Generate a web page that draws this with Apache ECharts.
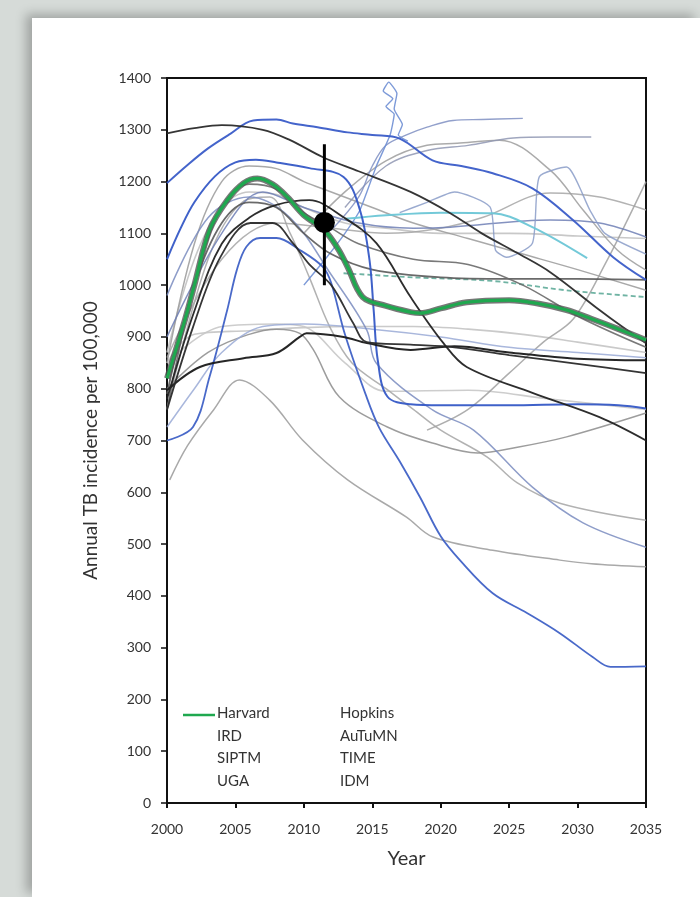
<!DOCTYPE html>
<html>
<head>
<meta charset="utf-8">
<script src="https://cdn.jsdelivr.net/npm/echarts@6/dist/echarts.min.js"></script>
<style>
html,body{margin:0;padding:0;width:700px;height:897px;background:#d6dbd8;overflow:hidden;}
#card{position:absolute;left:32px;top:18px;width:668px;height:879px;background:#fff;box-shadow:-6px -4px 10px rgba(0,0,0,0.25);}
#chart{position:absolute;left:0;top:0;width:700px;height:897px;}
</style>
</head>
<body>
<div id="card"></div>
<div id="chart"></div>
<script>
// ---- data (year, annual TB incidence per 100,000) ----
const xTicks = [2000, 2005, 2010, 2015, 2020, 2025, 2030, 2035];
const yTicks = [0, 100, 200, 300, 400, 500, 600, 700, 800, 900, 1000, 1100, 1200, 1300, 1400];
const legendLeft = ['Harvard', 'IRD', 'SIPTM', 'UGA'];
const legendRight = ['Hopkins', 'AuTuMN', 'TIME', 'IDM'];

const harvard = [[2000,820],[2001.3,932],[2002,1000],[2003.1,1106],[2004.4,1164],[2005.6,1197],[2006.6,1206],[2007.7,1195],[2008.8,1170],[2010,1135],[2011.5,1106],[2012.5,1070],[2013.2,1035],[2014.3,977],[2016,960],[2017.8,948],[2018.5,946],[2020,955],[2021.9,967],[2025,971],[2027,965],[2029.2,952],[2031,935],[2033,915],[2035,894]];
const observed = [[2011.5,1121]];
const observedRange = [[2011.5,1000],[2011.5,1272]];

const blackTop = [[2000,1293],[2002,1303],[2004,1309],[2007,1300],[2009,1280],[2011.4,1247],[2014,1220],[2017.8,1180],[2020.7,1139],[2023,1100],[2025.6,1062],[2028,1025],[2031.6,952],[2033.3,919],[2035,888]];
const blueTop = [[2000,1197],[2001.5,1232],[2003,1264],[2004.5,1290],[2006.3,1318],[2008,1320],[2009.2,1312],[2011,1305],[2013.2,1295],[2015,1290],[2017,1283],[2019.4,1241],[2021.5,1230],[2023.8,1216],[2026.7,1187],[2029.7,1125],[2032.6,1054],[2035,1010]];
const blueFlat = [[2000,1050],[2001,1110],[2002,1160],[2003.5,1210],[2005,1237],[2006.5,1242],[2008,1237],[2010.4,1226],[2012.9,1209],[2014.1,1145],[2014.8,1048],[2015.1,952],[2015.4,855],[2016.1,785],[2017.8,770],[2020,768],[2025,768],[2030,770],[2033,768],[2035,762]];
const blueLow = [[2000,700],[2001.9,726],[2003.1,822],[2004.4,952],[2005.1,1029],[2005.8,1074],[2006.8,1091],[2008,1091],[2009.7,1068],[2011.4,1035],[2012,1004],[2013,905],[2014.5,790],[2015.5,725],[2017,660],[2018.5,590],[2020,515],[2021.4,469],[2023.8,405],[2026.3,367],[2028.7,328],[2031.1,282],[2032.4,263],[2035,264]];
const blackHump = [[2000,759],[2001.9,919],[2003.9,1054],[2006.1,1120],[2007.7,1120],[2009.2,1081],[2010.4,1040],[2012,1000],[2013.6,927],[2014.6,890],[2017.8,885],[2021,880],[2025,865],[2030,848],[2035,830]];
const blackSteep = [[2000,780],[2002,950],[2004,1080],[2006,1130],[2008,1155],[2010.4,1164],[2012.9,1131],[2015.3,1081],[2017.8,977],[2020.2,888],[2021.9,842],[2026.7,792],[2031.6,745],[2035,700]];
const blackKink = [[2000,797],[2002.4,842],[2005.6,859],[2008,869],[2009.7,900],[2010.2,907],[2012.9,900],[2014.6,888],[2017.8,875],[2021,882],[2025,870],[2030,858],[2035,855]];
const grayFlat1010 = [[2000,790],[2002,1000],[2004,1120],[2006,1160],[2008,1150],[2010,1100],[2012,1060],[2015,1030],[2020,1015],[2025,1012],[2030,1012],[2035,1010]];
const tealDash = [[2012.9,1023],[2018,1015],[2023.8,1008],[2029.2,990],[2035,977]];
const cyanLine = [[2013,1128],[2016,1135],[2020,1140],[2023.8,1139],[2026.7,1112],[2030.7,1052]];
const blueGray494 = [[2000,980],[2003,1130],[2006,1170],[2009,1130],[2012,1020],[2014.6,913],[2015.3,849],[2019.4,759],[2022.4,720],[2026.7,610],[2030.4,541],[2035,494]];
const grayA753 = [[2000,800],[2003,870],[2006,905],[2008,915],[2009.7,907],[2010.7,875],[2012.6,784],[2016.1,726],[2019.4,695],[2022.7,676],[2025.6,687],[2029.2,707],[2035,753]];
const gray456 = [[2000.2,624],[2001.5,690],[2003.4,759],[2005.3,817],[2007.5,778],[2009.9,701],[2013.2,624],[2017.5,552],[2019.4,514],[2023.8,488],[2028.7,469],[2031,462],[2035,456]];
const gray546 = [[2000,760],[2003,1050],[2005.5,1160],[2007.5,1170],[2009,1100],[2010.4,1015],[2011.9,919],[2013.5,850],[2016,800],[2018,760],[2020,720],[2023.4,668],[2025.6,618],[2028.7,579],[2035,546]];
const lightGray780 = [[2000,850],[2004,920],[2008,925],[2010,920],[2013,850],[2016,795],[2022,797],[2028,780],[2035,760]];
const grayRise1200 = [[2019,720],[2022,760],[2025,830],[2027.5,890],[2029.7,935],[2032,1040],[2035,1200]];
const grayArc1145 = [[2000,860],[2004,1050],[2008,1120],[2012,1110],[2016,1100],[2020,1110],[2023.1,1131],[2028,1178],[2031.6,1170],[2035,1145]];
const blueGray1093 = [[2000,900],[2004,1100],[2007,1180],[2010,1150],[2014,1120],[2018,1110],[2020.7,1112],[2028,1126],[2031.6,1120],[2035,1093]];
const grayArc1029 = [[2010,1100],[2013,1180],[2016,1240],[2019,1270],[2021.2,1274],[2024.3,1280],[2028,1222],[2030.4,1145],[2032.9,1068],[2035,1029]];
const blueGray1320 = [[2012,1106],[2014,1170],[2015,1230],[2016,1270],[2017.5,1290],[2019,1305],[2020.9,1318],[2023,1320],[2026,1322]];
const gray1286 = [[2013,1150],[2016,1230],[2019,1260],[2022,1270],[2025.3,1284],[2028,1286],[2031,1286]];
const blueSquiggle = [[2010,1000],[2011.5,1048],[2013,1100],[2014.1,1145],[2015.3,1230],[2016.3,1290],[2016.6,1330],[2016,1345],[2016.5,1360],[2015.8,1375],[2016.2,1392],[2016.8,1370],[2016.6,1340],[2017.2,1310],[2016.9,1290],[2017.6,1278]];
const blueGrayLoops = [[2017,1140],[2019,1160],[2021,1180],[2023.6,1151],[2024,1068],[2024.8,1054],[2026.7,1081],[2027.2,1209],[2029.2,1228],[2030.9,1145],[2032,1100],[2035,1060]];
const lightGray1090 = [[2000,870],[2002,1050],[2004,1150],[2006,1180],[2008,1175],[2010,1150],[2013,1120],[2016,1110],[2020,1100],[2025,1100],[2030,1095],[2035,1090]];
const darkGray880 = [[2000,760],[2002,1000],[2004,1150],[2006,1195],[2008,1185],[2010,1140],[2012,1110],[2014,1080],[2018,1050],[2022,1040],[2026,1000],[2030,940],[2035,880]];
const gray990 = [[2000,850],[2002,1080],[2004,1200],[2006,1230],[2008,1225],[2010,1200],[2012,1180],[2015,1150],[2018,1120],[2022,1090],[2026,1060],[2030,1030],[2035,990]];
const lightBlue860 = [[2000,726],[2002,800],[2004,870],[2007,920],[2010,925],[2015,915],[2020,900],[2025,880],[2030,870],[2035,860]];
const lightGray870 = [[2000,850],[2002,905],[2006,912],[2010,918],[2014,920],[2018,920],[2022,915],[2026,905],[2030,890],[2035,870]];

// ---- chart ----
const FONT = 'Lato, "Open Sans", sans-serif';
function line(data, color, width, opacity, extra) {
  return Object.assign({
    type: 'line', data: data, smooth: 0.35, symbol: 'none', silent: true,
    lineStyle: { color: color, width: width, opacity: opacity }
  }, extra || {});
}
const series = [
  line(lightGray1090, '#c2c2c2', 1.6, 0.9),
  line(lightGray870, '#c4c4c4', 1.6, 0.9),
  line(lightGray780, '#c8c8c8', 1.6, 0.9),
  line(gray990, '#9a9a9a', 1.5, 0.85),
  line(grayArc1145, '#a6a6a6', 1.5, 0.85),
  line(grayArc1029, '#9c9c9c', 1.5, 0.85),
  line(gray1286, '#8f97b3', 1.4, 0.85),
  line(grayRise1200, '#a0a0a0', 1.5, 0.85),
  line(gray546, '#a4a4a4', 1.5, 0.85),
  line(gray456, '#9a9a9a', 1.5, 0.85),
  line(grayA753, '#8c8c8c', 1.5, 0.85),
  line(lightBlue860, '#9aaad6', 1.5, 0.85),
  line(blueGray1093, '#6f7fb5', 1.5, 0.85),
  line(blueGray1320, '#7f8fc2', 1.4, 0.85),
  line(blueGrayLoops, '#8a9cc8', 1.4, 0.85, { smooth: 0.2 }),
  line(blueGray494, '#7a8cc0', 1.5, 0.85),
  line(blueSquiggle, '#6f8fd4', 1.4, 0.9, { smooth: 0.15 }),
  line(cyanLine, '#6cc6d6', 2, 0.95),
  line(tealDash, '#6fb3a3', 1.8, 0.95, { lineStyle: { color: '#6fb3a3', width: 1.8, type: [5, 3] } }),
  line(grayFlat1010, '#5a5a5a', 1.8, 0.9),
  line(darkGray880, '#6a6a6a', 1.6, 0.9),
  line(blueLow, '#3f61c6', 1.8, 0.95),
  line(blueFlat, '#3558c6', 2, 0.95),
  line(blueTop, '#3a5cc8', 2, 0.95),
  line(blackKink, '#1a1a1a', 2, 0.95),
  line(blackHump, '#2a2a2a', 1.8, 0.95),
  line(blackSteep, '#222', 1.8, 0.95),
  line(blackTop, '#2a2a2a', 1.8, 0.95),
  line(harvard, '#555', 6, 0.8),
  line(harvard, '#1fa84f', 3.2, 1),
  { type: 'line', data: observedRange, symbol: 'none', silent: true, z: 10, lineStyle: { color: '#000', width: 3, opacity: 1 } },
  { type: 'scatter', data: observed, symbol: 'circle', symbolSize: 21, silent: true, z: 11, itemStyle: { color: '#000', opacity: 1 } }
];

const chart = echarts.init(document.getElementById('chart'), null, { renderer: 'canvas' });
const legendGraphics = [
  { type: 'line', shape: { x1: 183, y1: 715, x2: 215, y2: 715 }, style: { stroke: '#1fa84f', lineWidth: 2.5 } }
];
legendLeft.forEach((t, i) => legendGraphics.push({ type: 'text', left: 217, top: 706 + i * 22.5, style: { text: t, fill: '#333', font: '15px ' + FONT } }));
legendRight.forEach((t, i) => legendGraphics.push({ type: 'text', left: 340, top: 706 + i * 22.5, style: { text: t, fill: '#333', font: '15px ' + FONT } }));

chart.setOption({
  animation: false,
  backgroundColor: 'transparent',
  textStyle: { fontFamily: FONT },
  grid: { left: 167, top: 78, right: 54, bottom: 94, show: true, borderColor: '#111', borderWidth: 2, backgroundColor: 'transparent' },
  xAxis: {
    type: 'value', min: 2000, max: 2035, interval: 5,
    name: 'Year', nameLocation: 'middle', nameGap: 46,
    nameTextStyle: { fontSize: 20, color: '#333', fontFamily: FONT },
    axisLine: { show: true, lineStyle: { color: '#111', width: 2 } },
    axisTick: { show: true, length: 5, lineStyle: { color: '#111', width: 2 } },
    axisLabel: { fontSize: 14, color: '#333', margin: 19, formatter: v => xTicks.includes(v) ? String(v) : '' },
    splitLine: { show: false }
  },
  yAxis: {
    type: 'value', min: 0, max: 1400, interval: 100,
    name: 'Annual TB incidence per 100,000', nameLocation: 'middle', nameGap: 67,
    nameTextStyle: { fontSize: 19, color: '#333', fontFamily: '"Liberation Sans Narrow", ' + FONT },
    axisLine: { show: true, lineStyle: { color: '#111', width: 2 } },
    axisTick: { show: true, length: 6, lineStyle: { color: '#111', width: 1.5 } },
    axisLabel: { fontSize: 14, color: '#333', margin: 16, formatter: v => yTicks.includes(v) ? String(v) : '' },
    splitLine: { show: false }
  },
  graphic: legendGraphics,
  series: series
});
</script>
</body>
</html>
